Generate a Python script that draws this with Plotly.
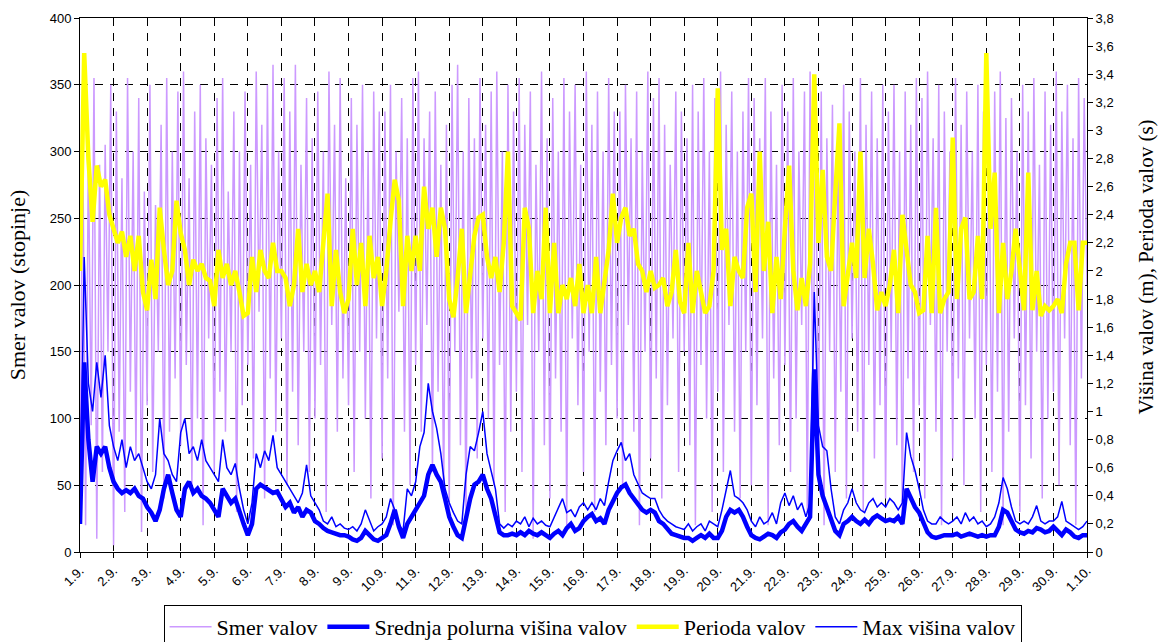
import pandas as pd
import plotly.graph_objects as go

# Time axes: wave heights / period every 3 h, wave direction every 2 h
t_3h = pd.date_range("2009-09-01 00:00", "2009-10-01 00:00", freq="3h")
t_2h = pd.date_range("2009-09-01 00:00", "2009-10-01 00:00", freq="2h")

# Wave period (s), 8 values per day
perioda = [
    2.0, 3.55, 2.8, 2.35, 2.75, 2.6, 2.65, 2.4,
    2.3, 2.2, 2.28, 2.1, 2.25, 2.0, 2.25, 1.85,
    1.72, 2.08, 1.8, 2.45, 2.15, 1.9, 2.0, 2.5,
    2.27, 2.15, 1.9, 2.08, 2.0, 2.05, 1.95, 1.93,
    1.75, 2.15, 1.95, 2.05, 1.9, 2.0, 1.85, 1.68,
    1.7, 2.1, 1.85, 2.15, 2.0, 1.95, 2.2, 2.0,
    2.0, 1.95, 1.75, 1.9, 2.3, 1.85, 2.05, 1.9,
    2.0, 1.85, 2.2, 2.55, 1.75, 2.15, 1.85, 1.7,
    1.8, 2.3, 1.9, 2.2, 1.75, 2.25, 1.95, 2.1,
    1.75, 2.0, 2.35, 2.65, 2.5, 1.75, 2.25, 2.0,
    2.25, 2.0, 2.6, 2.3, 2.45, 2.1, 2.45, 2.3,
    1.8, 1.67, 1.95, 2.3, 1.7, 2.0, 2.25, 2.38,
    2.4, 2.1, 1.95, 2.1, 1.85, 2.2, 2.85, 1.75,
    1.7, 1.65, 2.45, 2.3, 1.7, 2.0, 1.8, 2.45,
    1.7, 2.2, 1.7, 1.9, 1.8, 1.95, 1.75, 2.05,
    1.7, 1.9, 1.7, 2.1, 1.7, 1.95, 2.15, 2.55,
    2.2, 2.38, 2.45, 2.25, 2.3, 2.05, 2.0, 1.85,
    2.0, 1.88, 1.9, 1.95, 1.75, 1.85, 2.15, 1.78,
    1.7, 2.2, 1.7, 2.0, 1.85, 1.7, 1.75, 2.0,
    3.3, 2.15, 2.3, 1.75, 2.1, 2.0, 1.95, 2.45,
    2.55, 1.85, 2.85, 2.0, 2.35, 1.7, 2.1, 1.8,
    2.3, 2.75, 2.0, 1.72, 1.95, 1.75, 2.05, 3.4,
    2.2, 2.72, 2.1, 2.0, 2.55, 3.05, 1.75, 1.95,
    2.2, 1.95, 2.85, 1.95, 2.3, 2.05, 1.72, 1.85,
    1.75, 1.9, 2.15, 1.7, 2.4, 2.15, 1.9, 1.85,
    1.7, 1.72, 2.25, 1.7, 2.45, 1.7, 1.8, 1.85,
    2.95, 1.8, 2.3, 2.38, 1.8, 1.85, 2.25, 1.8,
    3.55, 2.3, 2.7, 1.7, 2.2, 1.8, 2.0, 2.3,
    2.0, 1.72, 2.7, 1.72, 2.0, 1.68, 1.75, 1.72,
    1.75, 1.8, 1.7, 2.05, 2.2, 2.2, 1.72, 2.2,
    2.2,
]

# Mean half-hourly wave height (m), 8 values per day
srednja = [
    0.2, 1.35, 0.8, 0.5, 0.75, 0.7, 0.75, 0.6,
    0.5, 0.45, 0.42, 0.44, 0.42, 0.45, 0.4, 0.38,
    0.32, 0.28, 0.22, 0.3, 0.45, 0.55, 0.42, 0.3,
    0.25, 0.45, 0.5, 0.42, 0.45, 0.4, 0.38, 0.35,
    0.3, 0.25, 0.45, 0.4, 0.35, 0.38, 0.28, 0.2,
    0.12, 0.2, 0.45, 0.48, 0.46, 0.44, 0.42, 0.43,
    0.38, 0.32, 0.35, 0.28, 0.32, 0.25, 0.3, 0.28,
    0.22, 0.2, 0.17, 0.15, 0.14, 0.13, 0.12, 0.12,
    0.11, 0.09, 0.08, 0.1, 0.15, 0.12, 0.09, 0.08,
    0.1, 0.12, 0.2, 0.3, 0.18, 0.1, 0.2, 0.25,
    0.3, 0.35, 0.4, 0.55, 0.62, 0.55, 0.5, 0.38,
    0.25, 0.18, 0.12, 0.1, 0.25, 0.38, 0.48, 0.5,
    0.55, 0.45, 0.38, 0.25, 0.14, 0.12, 0.12, 0.13,
    0.12, 0.14, 0.12, 0.15, 0.13, 0.12, 0.14, 0.12,
    0.1, 0.13, 0.15, 0.12, 0.17, 0.2, 0.15, 0.17,
    0.22, 0.25, 0.27, 0.22, 0.24, 0.2, 0.3, 0.36,
    0.42, 0.46, 0.48, 0.42, 0.38, 0.35, 0.3, 0.28,
    0.3, 0.28, 0.22, 0.2, 0.16, 0.13, 0.12, 0.11,
    0.1, 0.1, 0.08, 0.1, 0.12, 0.1, 0.13, 0.1,
    0.1, 0.15, 0.25, 0.3, 0.28, 0.3, 0.25, 0.18,
    0.12, 0.1, 0.09, 0.11, 0.13, 0.12, 0.1, 0.14,
    0.16, 0.2, 0.22, 0.18, 0.15, 0.2, 0.25, 1.3,
    0.55, 0.4, 0.32, 0.25, 0.15, 0.12, 0.2, 0.22,
    0.25, 0.22, 0.2, 0.23, 0.2, 0.24, 0.26, 0.24,
    0.22, 0.23, 0.22, 0.25, 0.2, 0.45, 0.38, 0.32,
    0.28, 0.2, 0.14, 0.11, 0.1, 0.11, 0.12, 0.12,
    0.12, 0.13, 0.11, 0.12, 0.13, 0.12, 0.11, 0.12,
    0.11, 0.12, 0.12, 0.18, 0.3, 0.28, 0.22, 0.16,
    0.14, 0.13, 0.15, 0.14, 0.17, 0.16, 0.14, 0.15,
    0.18, 0.15, 0.12, 0.16, 0.14, 0.11, 0.1, 0.12,
    0.12,
]

# Maximum wave height (m), 8 values per day
max_visina = [
    0.2, 2.1, 1.2, 1.0, 1.35, 1.1, 1.4, 0.9,
    0.75, 0.65, 0.8, 0.6, 0.75, 0.65, 0.7, 0.6,
    0.5, 0.45, 0.55, 0.95, 0.7, 0.65, 0.55, 0.5,
    0.85, 0.95, 0.7, 0.75, 0.65, 0.8, 0.65, 0.6,
    0.55, 0.5, 0.8, 0.6, 0.55, 0.63, 0.45, 0.3,
    0.2, 0.35, 0.7, 0.6, 0.72, 0.65, 0.83, 0.6,
    0.55, 0.5, 0.45, 0.4, 0.35, 0.42, 0.62, 0.4,
    0.35, 0.3, 0.22, 0.2, 0.25, 0.18, 0.2, 0.17,
    0.16, 0.18, 0.15, 0.2, 0.3, 0.22, 0.15, 0.18,
    0.2, 0.25, 0.38, 0.3, 0.2, 0.15, 0.45, 0.4,
    0.5, 0.75, 0.85, 1.2, 1.0, 0.88, 0.7, 0.45,
    0.35, 0.28, 0.22, 0.2, 0.55, 0.75, 0.72, 0.85,
    1.0, 0.7, 0.58, 0.45, 0.2, 0.17, 0.2, 0.18,
    0.22, 0.2, 0.25, 0.18, 0.24, 0.2, 0.22, 0.19,
    0.18, 0.25, 0.32, 0.38, 0.28, 0.3, 0.25, 0.32,
    0.35, 0.3, 0.35, 0.3, 0.38, 0.33, 0.5, 0.65,
    0.72, 0.78, 0.65, 0.7, 0.55, 0.48, 0.42, 0.4,
    0.38, 0.38, 0.3, 0.25, 0.22, 0.2, 0.18, 0.17,
    0.16, 0.2, 0.15, 0.18, 0.2, 0.15, 0.22, 0.2,
    0.18, 0.3, 0.45, 0.58, 0.4, 0.38, 0.35, 0.3,
    0.22, 0.18, 0.25, 0.2, 0.22, 0.28, 0.2, 0.35,
    0.42, 0.33, 0.4, 0.3, 0.35, 0.25, 0.35, 1.85,
    0.9, 0.75, 0.72, 0.45, 0.25, 0.2, 0.3, 0.35,
    0.45, 0.35, 0.3, 0.28, 0.35, 0.38, 0.32, 0.35,
    0.32, 0.38, 0.35, 0.3, 0.35, 0.85, 0.68, 0.58,
    0.45, 0.3, 0.22, 0.2, 0.2, 0.25, 0.22, 0.2,
    0.22, 0.25, 0.2, 0.28, 0.22, 0.25, 0.2, 0.22,
    0.18, 0.2, 0.25, 0.35, 0.53, 0.45, 0.32, 0.22,
    0.2, 0.22, 0.2, 0.25, 0.33, 0.22, 0.2, 0.22,
    0.22, 0.25, 0.36, 0.22, 0.2, 0.18, 0.16, 0.18,
    0.22,
]

# Wave direction (degrees), 12 values per day
smer = [
    40, 310, 20, 300, 95, 355, 10, 290, 60, 305, 150, 350,
    5, 330, 90, 280, 30, 355, 120, 300, 70, 340, 15, 270,
    110, 350, 60, 260, 150, 320, 40, 355, 90, 300, 130, 345,
    80, 360, 140, 280, 50, 330, 100, 350, 20, 310, 160, 290,
    60, 340, 120, 355, 90, 270, 150, 330, 30, 300, 110, 345,
    140, 290, 70, 360, 180, 320, 40, 350, 130, 365, 90, 300,
    160, 355, 50, 330, 120, 365, 80, 290, 150, 340, 60, 310,
    100, 345, 140, 300, 30, 360, 170, 320, 90, 355, 130, 280,
    110, 340, 60, 320, 150, 350, 100, 300, 40, 345, 160, 330,
    70, 330, 130, 350, 20, 300, 180, 340, 90, 310, 50, 355,
    140, 360, 90, 310, 170, 330, 60, 345, 120, 290, 40, 320,
    30, 350, 150, 365, 80, 300, 20, 340, 130, 310, 70, 355,
    160, 320, 100, 345, 50, 360, 140, 300, 30, 350, 90, 330,
    120, 355, 60, 320, 170, 345, 10, 290, 150, 360, 80, 310,
    40, 340, 130, 300, 90, 355, 20, 330, 160, 350, 110, 290,
    60, 360, 150, 320, 30, 345, 120, 300, 80, 355, 140, 330,
    100, 330, 50, 350, 170, 310, 90, 345, 20, 300, 150, 360,
    70, 340, 130, 355, 40, 320, 110, 290, 160, 345, 60, 330,
    150, 310, 80, 350, 20, 330, 140, 355, 100, 300, 30, 340,
    120, 360, 60, 320, 170, 345, 90, 300, 40, 330, 150, 355,
    50, 340, 110, 310, 160, 355, 20, 330, 130, 290, 80, 350,
    140, 330, 60, 355, 100, 300, 170, 345, 30, 360, 110, 320,
    80, 345, 20, 310, 150, 335, 60, 290, 120, 350, 40, 330,
    160, 300, 90, 355, 30, 320, 140, 345, 70, 310, 110, 350,
    40, 330, 150, 350, 80, 300, 20, 345, 130, 320, 60, 355,
    110, 340, 40, 360, 170, 310, 90, 350, 20, 330, 150, 300,
    70, 355, 130, 320, 50, 345, 160, 300, 100, 350, 30, 330,
    140, 310, 60, 345, 120, 360, 20, 325, 90, 340, 160, 300,
    30, 350, 110, 330, 70, 355, 150, 290, 40, 345, 100, 320,
    120, 360, 50, 330, 160, 350, 80, 310, 20, 355, 130, 340,
    200,
]

SERIF = "Liberation Serif"
SANS = "Liberation Sans"
GRID_DASH = "8px,7px"

fig = go.Figure()
fig.add_trace(go.Scatter(x=t_2h, y=smer, name="Smer valov", mode="lines",
                         line=dict(color="#CC99FF", width=1.5), yaxis="y"))
fig.add_trace(go.Scatter(x=t_3h, y=srednja, name="Srednja polurna višina valov", mode="lines",
                         line=dict(color="#0000FF", width=4.5), yaxis="y2"))
fig.add_trace(go.Scatter(x=t_3h, y=perioda, name="Perioda valov", mode="lines",
                         line=dict(color="#FFFF00", width=4.5), yaxis="y2"))
fig.add_trace(go.Scatter(x=t_3h, y=max_visina, name="Max višina valov", mode="lines",
                         line=dict(color="#0000FF", width=1.5), yaxis="y2"))

fig.update_layout(
    width=1160, height=642,
    margin=dict(l=80, r=73, t=18, b=90, autoexpand=False),
    paper_bgcolor="white", plot_bgcolor="white",
    separators=", ",
    font=dict(family=SANS, size=13, color="black"),
    showlegend=True,
    legend=dict(orientation="h", x=0.509, xanchor="center",
                yref="container", y=0.0576, yanchor="top",
                bordercolor="black", borderwidth=1, bgcolor="white",
                font=dict(family=SERIF, size=22, color="black"),
                itemwidth=42, tracegroupgap=0),
    xaxis=dict(
        type="date", automargin=False,
        range=[t_3h[0], t_3h[-1]],
        tick0=t_3h[0], dtick=86400000,
        tickformat="%-d.%-m.", tickangle=-45,
        tickfont=dict(family=SANS, size=13),
        ticks="outside", ticklen=5, tickcolor="black",
        showgrid=True, gridcolor="black", gridwidth=1, griddash=GRID_DASH,
        showline=True, linecolor="black", linewidth=1, mirror=True,
        zeroline=False,
    ),
    yaxis=dict(
        automargin=False,
        range=[0, 400], dtick=50, tick0=0,
        ticks="outside", ticklen=5, tickcolor="black",
        tickfont=dict(family=SANS, size=13),
        showgrid=True, gridcolor="black", gridwidth=1, griddash=GRID_DASH,
        showline=True, linecolor="black", linewidth=1,
        zeroline=False,
        title=dict(text="Smer valov (stopinje)", font=dict(family=SERIF, size=22), standoff=17),
    ),
    yaxis2=dict(
        automargin=False,
        overlaying="y", side="right",
        range=[0, 3.8001], dtick=0.2, tick0=0,
        ticks="outside", ticklen=5, tickcolor="black",
        tickfont=dict(family=SANS, size=13),
        showgrid=False, showline=True, linecolor="black", linewidth=1,
        zeroline=False,
    ),
    annotations=[dict(
        text="Višina valov (m), Perioda valov (s)",
        xref="paper", yref="paper", x=1.0586, y=0.533,
        xanchor="center", yanchor="middle", textangle=-90, showarrow=False,
        font=dict(family=SERIF, size=21, color="black"),
    )],
)

fig.write_html("out.html")
